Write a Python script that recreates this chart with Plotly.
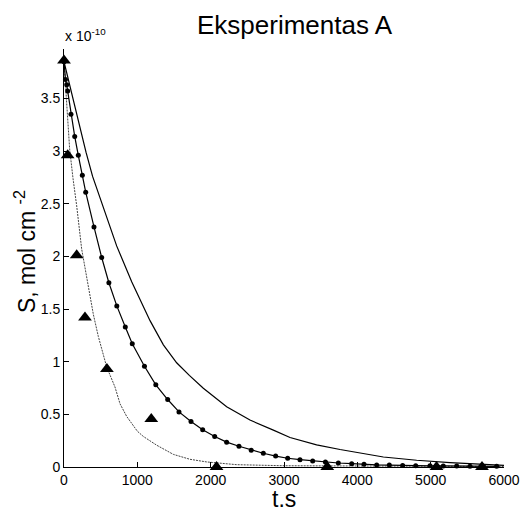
import plotly.graph_objects as go

# Measured surface concentration (triangles), S in units of 1e-10 mol cm^-2
t_exp = [0, 50, 173, 286, 585, 1190, 2080, 3590, 5080, 5700]
s_exp = [3.86, 2.96, 2.01, 1.42, 0.93, 0.455, 0.0, 0.0, 0.0, 0.0]

# Slow model curve (solid line)
t_slow = [0, 100, 200, 300, 390, 480, 559, 718, 923, 1173, 1355, 1536, 1709,
          1900, 2218, 2536, 2855, 3082, 3445, 3764, 4355, 4809, 5264, 5718, 6000]
s_slow = [3.85, 3.56, 3.27, 2.99, 2.76, 2.58, 2.42, 2.10, 1.76, 1.39, 1.16,
          0.99, 0.87, 0.748, 0.573, 0.446, 0.35, 0.28, 0.21, 0.166, 0.095,
          0.064, 0.042, 0.026, 0.016]

# Intermediate model curve (solver steps shown as dots)
t_mid = [0, 20, 37, 50, 95, 146, 195, 250, 296, 409, 514, 612, 720, 836, 931,
         1097, 1252, 1414, 1568, 1732, 1891, 2055, 2218, 2386, 2553, 2718,
         2886, 3050, 3218, 3391, 3565, 3741, 3923, 4091, 4264, 4436, 4618,
         4796, 4991, 5172, 5355, 5536, 5718, 5900]
s_mid = [3.85, 3.68, 3.63, 3.57, 3.35, 3.14, 2.96, 2.77, 2.61, 2.28, 1.99,
         1.75, 1.53, 1.33, 1.17, 0.957, 0.78, 0.641, 0.523, 0.433, 0.353,
         0.290, 0.236, 0.197, 0.160, 0.131, 0.104, 0.083, 0.070, 0.058,
         0.048, 0.038, 0.032, 0.025, 0.020, 0.018, 0.014, 0.013, 0.011,
         0.010, 0.009, 0.008, 0.007, 0.006]

# Fast model curve (dotted line)
t_fast = [0, 30, 77, 123, 173, 241, 332, 400, 468, 582, 695, 764, 855, 1000,
          1082, 1264, 1491, 1718, 1946, 2355, 3000, 4000, 5000, 6000]
s_fast = [3.85, 3.52, 3.02, 2.74, 2.48, 2.07, 1.70, 1.45, 1.24, 0.95, 0.76,
          0.60, 0.48, 0.34, 0.29, 0.207, 0.12, 0.073, 0.048, 0.022, 0.012,
          0.008, 0.006, 0.005]

x_ticks = [0, 1000, 2000, 3000, 4000, 5000, 6000]
y_ticks = [0, 0.5, 1, 1.5, 2, 2.5, 3, 3.5]
y_tick_text = ["0", "0.5", "1", "1.5", "2", "2.5", "3", "3.5"]

FONT = "Liberation Sans, Arial, Helvetica, sans-serif"

# Page size and plot-area margins in pixels
W, H = 524, 514
L, R, T, B = 64, 20, 49, 47
pw, ph = W - L - R, H - T - B


def px_anno(text, px, py, size, **kw):
    """Text annotation positioned in page pixels."""
    return dict(text=text, xref="paper", yref="paper",
                x=(px - L) / pw, y=(H - B - py) / ph,
                xanchor=kw.pop("xanchor", "center"), yanchor="middle",
                showarrow=False, font=dict(family=FONT, size=size, color="black"),
                **kw)


fig = go.Figure()
fig.add_trace(go.Scatter(x=t_fast, y=s_fast, mode="lines",
                         line=dict(color="#444444", width=1, dash="2px,1px"),
                         cliponaxis=False))
fig.add_trace(go.Scatter(x=t_slow, y=s_slow, mode="lines",
                         line=dict(color="black", width=1.2),
                         cliponaxis=False))
fig.add_trace(go.Scatter(x=t_mid, y=s_mid, mode="lines+markers",
                         line=dict(color="black", width=1.2),
                         marker=dict(symbol="circle", size=5, color="black"),
                         cliponaxis=False))
fig.add_trace(go.Scatter(x=t_exp, y=s_exp, mode="markers",
                         marker=dict(symbol="triangle-up", size=12, color="black"),
                         cliponaxis=False))

fig.update_layout(
    width=W, height=H,
    margin=dict(l=L, r=R, t=T, b=B),
    paper_bgcolor="white", plot_bgcolor="white",
    showlegend=False,
    font=dict(family=FONT, color="black", size=14),
    xaxis=dict(range=[0, 6000], tickvals=x_ticks, ticks="inside", ticklen=5,
               tickcolor="black", showline=True, linecolor="black", linewidth=1,
               showgrid=False, zeroline=False, automargin=False,
               tickfont=dict(size=14)),
    yaxis=dict(range=[0, 3.97], tickvals=y_ticks, ticktext=y_tick_text,
               ticks="inside", ticklen=5, tickcolor="black", showline=True,
               linecolor="black", linewidth=1, showgrid=False, zeroline=False,
               automargin=False, tickfont=dict(size=14)),
    annotations=[
        px_anno("Eksperimentas A", 295, 25, 26),
        px_anno("x 10<sup>-10</sup>", 63, 35, 14, xanchor="left"),
        px_anno("S, mol cm <sup>-2</sup>", 25, 252, 23, textangle=-90),
        px_anno("t.s", 284, 499, 23),
    ],
)

fig.write_html("out.html")
